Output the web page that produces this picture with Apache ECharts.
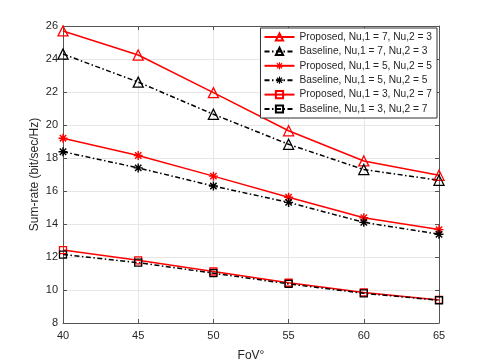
<!DOCTYPE html>
<html>
<head>
<meta charset="utf-8">
<script src="https://cdn.jsdelivr.net/npm/echarts@6/dist/echarts.min.js"></script>
<style>
  html, body { margin: 0; padding: 0; background: #fff; }
  #c1 { width: 485px; height: 363px; }
</style>
</head>
<body>
<div id="c1"></div>
<script>
// FoV values on the x axis
var fov = [40, 45, 50, 55, 60, 65]
// sum-rate (bit/sec/Hz)
var propN73 = [25.7, 24.24, 21.96, 19.65, 17.82, 16.95]
var baseN73 = [24.3, 22.6, 20.65, 18.83, 17.3, 16.65]
var propN55 = [19.2, 18.15, 16.9, 15.62, 14.38, 13.66]
var baseN55 = [18.38, 17.4, 16.3, 15.31, 14.1, 13.38]
var propN37 = [12.42, 11.8, 11.12, 10.44, 9.85, 9.4]
var baseN37 = [12.15, 11.66, 11.02, 10.37, 9.8, 9.38]
var seriesNames = [
  'Proposed, Nu,1 = 7, Nu,2 = 3',
  'Baseline, Nu,1 = 7, Nu,2 = 3',
  'Proposed, Nu,1 = 5, Nu,2 = 5',
  'Baseline, Nu,1 = 5, Nu,2 = 5',
  'Proposed, Nu,1 = 3, Nu,2 = 7',
  'Baseline, Nu,1 = 3, Nu,2 = 7'
]

var asterisk = 'path://M-0.8,-5L0.8,-5L0.8,5L-0.8,5Z' +
  'M-5,-0.8L5,-0.8L5,0.8L-5,0.8Z' +
  'M-4.1,-2.97L-2.97,-4.1L4.1,2.97L2.97,4.1Z' +
  'M4.1,-2.97L-2.97,4.1L-4.1,2.97L2.97,-4.1Z'

var dashDot = [5, 2.5, 1.5, 2.5]
var font = 'Liberation Sans, Arial, sans-serif'

function pairs(vals) {
  return fov.map(function (x, i) { return [x, vals[i]] })
}

function makeSeries(name, vals, proposed, symbol, size) {
  var color = proposed ? '#ff0000' : '#000000'
  var filled = symbol === asterisk
  return {
    name: name,
    type: 'line',
    data: pairs(vals),
    symbol: symbol,
    symbolSize: size,
    showAllSymbol: true,
    animation: false,
    lineStyle: {
      color: color,
      width: 1.5,
      type: proposed ? 'solid' : dashDot
    },
    itemStyle: {
      color: filled ? color : 'rgba(255,255,255,0)',
      borderColor: color,
      borderWidth: filled ? 0 : 1.3
    },
    emphasis: { disabled: true }
  }
}

var myChart = echarts.init(document.getElementById('c1'), null, { renderer: 'canvas' })
var axisLineStyle = { color: '#555', width: 1 }
var option = {
  backgroundColor: '#fff',
  animation: false,
  textStyle: { fontFamily: font },
  grid: {
    left: 63,
    right: 46,
    top: 26,
    bottom: 40,
    outerBoundsMode: 'none'
  },
  legend: {
    orient: 'vertical',
    right: 48,
    top: 28,
    backgroundColor: '#fff',
    borderColor: '#333',
    borderWidth: 1,
    borderRadius: 0,
    padding: [4, 5, 4, 3],
    itemGap: 4.4,
    itemWidth: 30,
    itemHeight: 9,
    textStyle: { fontSize: 10.2, color: '#262626', fontFamily: font },
    data: seriesNames
  },
  xAxis: [
    {
      type: 'value',
      min: 40,
      max: 65,
      interval: 5,
      name: 'FoV°',
      nameLocation: 'middle',
      nameGap: 27,
      nameMoveOverlap: false,
      nameTextStyle: { fontSize: 12, color: '#262626' },
      axisLine: { show: true, lineStyle: axisLineStyle },
      axisTick: { show: true, inside: true, length: 4, lineStyle: axisLineStyle },
      axisLabel: { fontSize: 11, color: '#262626', margin: 7 },
      splitLine: { show: true, lineStyle: { color: '#e6e6e6', width: 1 } }
    },
    {
      type: 'value',
      position: 'top',
      min: 40,
      max: 65,
      interval: 5,
      axisLine: { show: true, onZero: false, lineStyle: axisLineStyle },
      axisTick: { show: true, inside: true, length: 4, lineStyle: axisLineStyle },
      axisLabel: { show: false },
      splitLine: { show: false }
    }
  ],
  yAxis: [
    {
      type: 'value',
      min: 8,
      max: 26,
      interval: 2,
      name: 'Sum-rate (bit/sec/Hz)',
      nameLocation: 'middle',
      nameGap: 22,
      nameMoveOverlap: false,
      nameTextStyle: { fontSize: 12, color: '#262626' },
      axisLine: { show: true, lineStyle: axisLineStyle },
      axisTick: { show: true, inside: true, length: 4, lineStyle: axisLineStyle },
      axisLabel: { fontSize: 11, color: '#262626', margin: 5 },
      splitLine: { show: true, lineStyle: { color: '#e6e6e6', width: 1 } }
    },
    {
      type: 'value',
      position: 'right',
      min: 8,
      max: 26,
      interval: 2,
      axisLine: { show: true, onZero: false, lineStyle: axisLineStyle },
      axisTick: { show: true, inside: true, length: 4, lineStyle: axisLineStyle },
      axisLabel: { show: false },
      splitLine: { show: false }
    }
  ],
  series: [
    makeSeries(seriesNames[0], propN73, true, 'triangle', 10),
    makeSeries(seriesNames[1], baseN73, false, 'triangle', 10),
    makeSeries(seriesNames[2], propN55, true, asterisk, 9),
    makeSeries(seriesNames[3], baseN55, false, asterisk, 9),
    makeSeries(seriesNames[4], propN37, true, 'rect', 7),
    makeSeries(seriesNames[5], baseN37, false, 'rect', 7)
  ]
}
option && myChart.setOption(option)
</script>
</body>
</html>
